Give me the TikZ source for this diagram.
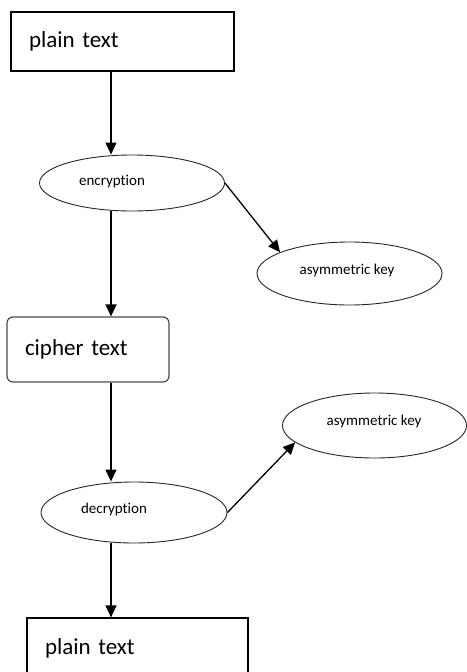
\documentclass[tikz,border=0pt]{standalone}
\usepackage{fontspec}
\setmainfont{Carlito}[Ligatures=NoCommon]
\usetikzlibrary{shapes.geometric,arrows.meta}
\begin{document}
\begin{tikzpicture}[x=1pt,y=1pt,
  boxnode/.style={draw=black,line width=1.2pt,inner xsep=18pt,inner ysep=0pt,align=left,
    font=\fontsize{23}{26}\selectfont,anchor=center},
  ellnode/.style={ellipse,draw=black!85,line width=0.9pt,inner sep=0pt},
  smalltext/.style={font=\fontsize{15}{17}\selectfont},
  arr/.style={-{Triangle[length=12pt,width=11pt]},line width=1.3pt}]
\useasboundingbox (0,0) rectangle (466,-672);

\node[boxnode,minimum height=59pt,text width=187pt] (top) at (122.5,-41.5) {plain text};
\node[boxnode,draw=black!70,rounded corners=6pt,minimum height=65pt,text width=126pt] (cipher) at (88,-349.5) {cipher text};
\node[boxnode,minimum height=60pt,text width=185pt] (bottom) at (137.5,-648) {plain text};

\node[ellnode,minimum width=185pt,minimum height=56pt,
  label={[smalltext,xshift=-20pt,yshift=1pt]center:encryption}] (enc) at (132,-183) {};
\node[ellnode,minimum width=185pt,minimum height=63pt,
  label={[smalltext,xshift=-2.5pt,yshift=3.5pt]center:asymmetric key}] (ak1) at (349.5,-273.5) {};
\node[ellnode,minimum width=186pt,minimum height=61pt,
  label={[smalltext,xshift=-20pt,yshift=3.5pt]center:decryption}] (dec) at (134,-512.5) {};
\node[ellnode,minimum width=184pt,minimum height=65pt,
  label={[smalltext,xshift=-0.5pt,yshift=4.5pt]center:asymmetric key}] (ak2) at (374.5,-425.5) {};

\draw[arr] ([xshift=-11.5pt]top.south) -- ([xshift=-21pt]enc.north);
\draw[arr] (enc.east) -- (ak1.163);
\draw[arr] ([xshift=-21pt]enc.south) -- ([xshift=23pt]cipher.north);
\draw[arr] ([xshift=23pt]cipher.south) -- ([xshift=-23pt]dec.north);
\draw[arr] (dec.east) -- (ak2.192);
\draw[arr] ([xshift=-23pt]dec.south) -- ([xshift=-26.5pt]bottom.north);
\end{tikzpicture}
\end{document}
